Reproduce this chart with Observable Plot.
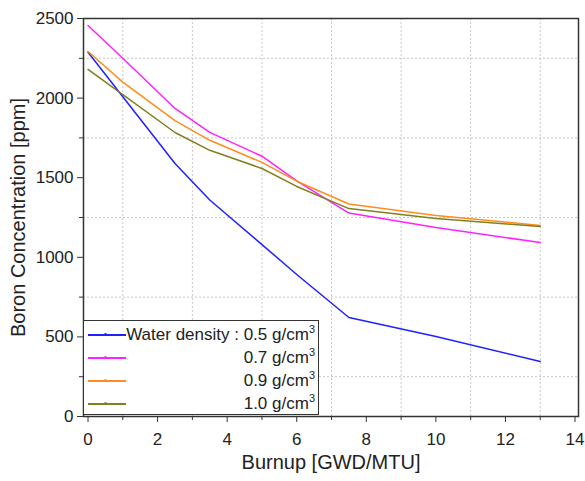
<!DOCTYPE html>
<html>
<head>
<meta charset="utf-8">
<script src="https://cdn.jsdelivr.net/npm/d3@7"></script>
<script src="https://cdn.jsdelivr.net/npm/@observablehq/plot@0.6"></script>
<style>
  html, body { margin: 0; padding: 0; background: white; }
  #wrap { position: relative; width: 585px; height: 481px; font-family: "Liberation Sans", Arial, sans-serif; }
  #legend { position: absolute; left: 83px; top: 320px; width: 236px; height: 95px; background: white; border: 1.5px solid #333; box-sizing: border-box; }
  .row { position: absolute; left: 0; right: 0; height: 23px; font-size: 17px; color: #222; }
  .swatch { position: absolute; left: 4px; width: 38px; top: 11px; height: 1.6px; }
  .dot { position: absolute; left: 20px; top: 10px; width: 3px; height: 3px; border-radius: 50%; }
  .lab { position: absolute; right: 3px; top: 50%; transform: translateY(-52%); white-space: nowrap; }
  .lab sup { font-size: 11px; vertical-align: 7px; line-height: 0; }
</style>
</head>
<body>
<div id="wrap"></div>
<script>
const burnup = [0, 1, 2.5, 3.5, 5, 6, 7.5, 10, 13];
const rho05 = [2288, 2008, 1589, 1360, 1080, 892, 622, 503, 345];
const rho07 = [2456, 2250, 1935, 1785, 1635, 1480, 1278, 1187, 1093];
const rho09 = [2293, 2100, 1859, 1735, 1596, 1478, 1335, 1263, 1200];
const rho10 = [2180, 2022, 1784, 1672, 1558, 1445, 1306, 1244, 1193];
const seriesNames = ["0.5", "0.7", "0.9", "1.0"];
const seriesColors = ["#2020ff", "#ff22ff", "#ff8c1e", "#80801e"];
const seriesValues = [rho05, rho07, rho09, rho10];
const legendLabels = ["Water density : 0.5 g/cm", "0.7 g/cm", "0.9 g/cm", "1.0 g/cm"];

const xMajor = [0, 2, 4, 6, 8, 10, 12, 14];
const xMinor = [1, 3, 5, 7, 9, 11, 13];
const yMajor = [0, 500, 1000, 1500, 2000, 2500];
const yMinor = [250, 750, 1250, 1750, 2250];

const table = [];
seriesNames.forEach((s, i) => burnup.forEach((b, j) => table.push({series: s, burnup: b, boron: seriesValues[i][j]})));

const chart = Plot.plot({
  width: 585,
  height: 481,
  marginLeft: 83,
  marginRight: 7,
  marginTop: 18,
  marginBottom: 65,
  style: {fontFamily: "Liberation Sans, Arial, sans-serif", fontSize: "17px", background: "white", color: "#222"},
  x: {domain: [-0.13, 14.1]},
  y: {domain: [0, 2500]},
  color: {domain: seriesNames, range: seriesColors},
  marks: [
    Plot.gridX(xMinor, {stroke: "#c8c8c8", strokeOpacity: 1, strokeDasharray: "2,2"}),
    Plot.gridY(yMinor, {stroke: "#c8c8c8", strokeOpacity: 1, strokeDasharray: "2,2"}),
    Plot.line(table, {x: "burnup", y: "boron", z: "series", stroke: "series", strokeWidth: 1.5}),
    Plot.frame({stroke: "#333", strokeWidth: 1.5}),
    Plot.axisX({ticks: xMajor, tickSize: 6, tickPadding: 10, tickFormat: d => String(d), label: null, fontSize: 17, stroke: "#333"}),
    Plot.axisX({ticks: xMinor, tickSize: 4, text: null, label: null, stroke: "#333"}),
    Plot.axisY({ticks: yMajor, tickSize: 6, tickPadding: 4, tickFormat: d => String(d), label: null, fontSize: 17, stroke: "#333"}),
    Plot.axisY({ticks: yMinor, tickSize: 4, text: null, label: null, stroke: "#333"}),
    Plot.text(["Burnup [GWD/MTU]"], {frameAnchor: "bottom", dy: 52, fontSize: 20, fill: "#222"}),
    Plot.text(["Boron Concentration [ppm]"], {frameAnchor: "left", textAnchor: "middle", dx: -65, rotate: -90, fontSize: 20, fill: "#222"})
  ]
});
const wrap = document.getElementById("wrap");
wrap.appendChild(chart);

const legend = document.createElement("div");
legend.id = "legend";
legendLabels.forEach((t, i) => {
  const row = document.createElement("div");
  row.className = "row";
  row.style.top = (2 + i * 23) + "px";
  const sw = document.createElement("div");
  sw.className = "swatch";
  sw.style.background = seriesColors[i];
  const dot = document.createElement("div");
  dot.className = "dot";
  dot.style.background = seriesColors[i];
  const lab = document.createElement("div");
  lab.className = "lab";
  lab.innerHTML = t + "<sup>3</sup>";
  row.appendChild(sw);
  row.appendChild(dot);
  row.appendChild(lab);
  legend.appendChild(row);
});
wrap.appendChild(legend);
</script>
</body>
</html>
